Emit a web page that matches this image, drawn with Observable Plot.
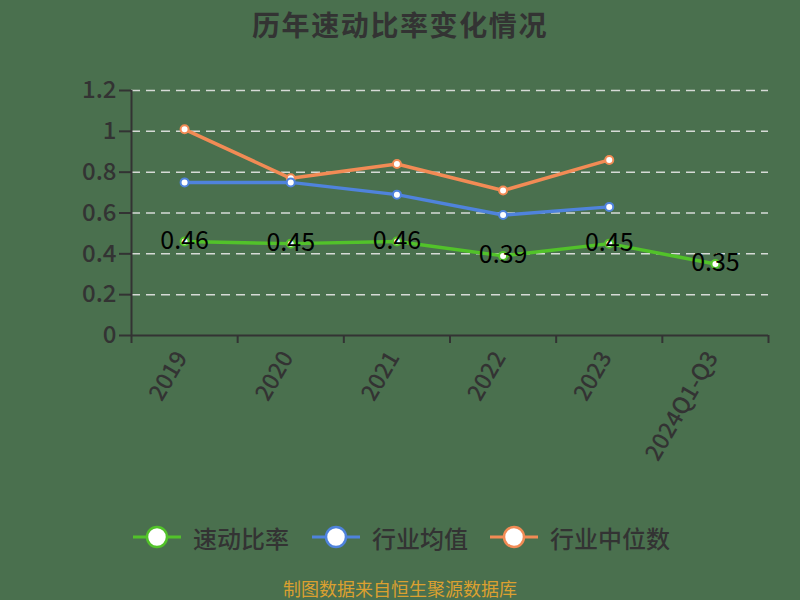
<!DOCTYPE html>
<html>
<head>
<meta charset="utf-8">
<script src="https://cdn.jsdelivr.net/npm/d3@7"></script>
<script src="https://cdn.jsdelivr.net/npm/@observablehq/plot@0.6"></script>
<style>
  html, body { margin: 0; padding: 0; background: #4a704e; }
  #wrap { position: relative; width: 800px; height: 600px; background: #4a704e; overflow: hidden;
          font-family: "Noto Sans CJK SC", "Noto Sans", sans-serif; }
  #title { position: absolute; left: 0; width: 800px; top: 4px; text-align: center;
           font-size: 28px; font-weight: bold; color: #333; letter-spacing: 1.6px; }
  #legend { position: absolute; top: 518px; left: 0; width: 800px; height: 40px; }
  .item { position: absolute; top: 0; display: flex; align-items: center; height: 38px;
          font-size: 24px; color: #333; font-weight: 500; }
  .item svg { margin-right: 12px; }
  #caption { position: absolute; left: 0; width: 800px; top: 575px; text-align: center;
             font-size: 18px; color: #dba030; }
  #chart { position: absolute; left: 0; top: 0; }
</style>
</head>
<body>
<div id="wrap">
  <div id="chart"></div>
  <div id="title">历年速动比率变化情况</div>
  <div id="legend"></div>
  <div id="caption">制图数据来自恒生聚源数据库</div>
</div>
<script>
const categories = ["2019", "2020", "2021", "2022", "2023", "2024Q1-Q3"];
const quickRatio = [0.46, 0.45, 0.46, 0.39, 0.45, 0.35];
const industryMean = [0.75, 0.75, 0.69, 0.59, 0.63];
const industryMedian = [1.01, 0.77, 0.84, 0.71, 0.86];
const seriesNames = ["速动比率", "行业均值", "行业中位数"];
const seriesColors = ["#52c22a", "#4f83dc", "#f28b55"];
const yTicks = [0, 0.2, 0.4, 0.6, 0.8, 1.0, 1.2];

const rows = (vals, s) => vals.map((v, i) => ({ x: i + 0.5, y: v, s, cat: categories[i] }));
const qr = rows(quickRatio, seriesNames[0]);
const mean = rows(industryMean, seriesNames[1]);
const med = rows(industryMedian, seriesNames[2]);
const boundaries = d3.range(categories.length + 1);
const catPos = categories.map((c, i) => ({ x: i + 0.5, c }));

const plot = Plot.plot({
  width: 800,
  height: 600,
  marginLeft: 131,
  marginRight: 32,
  marginTop: 90,
  marginBottom: 265,
  style: { background: "transparent", fontFamily: "\"Noto Sans CJK SC\", \"Noto Sans\", sans-serif" },
  x: { type: "linear", domain: [0, categories.length], axis: null },
  y: { type: "linear", domain: [0, 1.2], axis: null },
  marks: [
    Plot.gridY(yTicks.filter(d => d > 0), { stroke: "#e6e6e6", strokeOpacity: 0.9, strokeWidth: 1.5, strokeDasharray: "9,6" }),
    Plot.axisY({ ticks: yTicks, label: null, tickSize: 12, tickPadding: 3, tickFormat: d => String(+d.toFixed(1)),
                 fontSize: 24, fontWeight: 500, color: "#333", stroke: "#333", strokeWidth: 2 }),
    Plot.axisX({ ticks: boundaries, label: null, tickSize: 8, tickFormat: () => "",
                 color: "#333", stroke: "#333", strokeWidth: 2 }),
    Plot.ruleX([0], { stroke: "#333", strokeWidth: 2 }),
    Plot.ruleY([0], { stroke: "#333", strokeWidth: 2 }),
    Plot.text(catPos, { x: "x", y: 0, text: "c", rotate: -60, textAnchor: "end", dy: 18, dx: -3,
                        fontSize: 23, fontWeight: 500, fill: "#333" }),
    Plot.line(med, { x: "x", y: "y", stroke: seriesColors[2], strokeWidth: 3.5 }),
    Plot.line(mean, { x: "x", y: "y", stroke: seriesColors[1], strokeWidth: 3.5 }),
    Plot.line(qr, { x: "x", y: "y", stroke: seriesColors[0], strokeWidth: 3.5 }),
    Plot.dot(med, { x: "x", y: "y", r: 4, fill: "white", stroke: seriesColors[2], strokeWidth: 2 }),
    Plot.dot(mean, { x: "x", y: "y", r: 4, fill: "white", stroke: seriesColors[1], strokeWidth: 2 }),
    Plot.dot(qr, { x: "x", y: "y", r: 4, fill: "white", stroke: seriesColors[0], strokeWidth: 2 }),
    Plot.text(qr, { x: "x", y: "y", text: d => d.y.toFixed(2), fontSize: 25, fill: "#000", dy: -1 })
  ]
});
document.getElementById("chart").appendChild(plot);

// Legend
const legendX = [133, 312, 490];
const legend = document.getElementById("legend");
seriesNames.forEach((name, i) => {
  const div = document.createElement("div");
  div.className = "item";
  div.style.left = legendX[i] + "px";
  div.innerHTML = `<svg width="48" height="24"><line x1="0" x2="48" y1="12" y2="12" stroke="${seriesColors[i]}" stroke-width="3"/>` +
    `<circle cx="24" cy="12" r="10" fill="white" stroke="${seriesColors[i]}" stroke-width="2.5"/></svg><span>${name}</span>`;
  legend.appendChild(div);
});
</script>
</body>
</html>
